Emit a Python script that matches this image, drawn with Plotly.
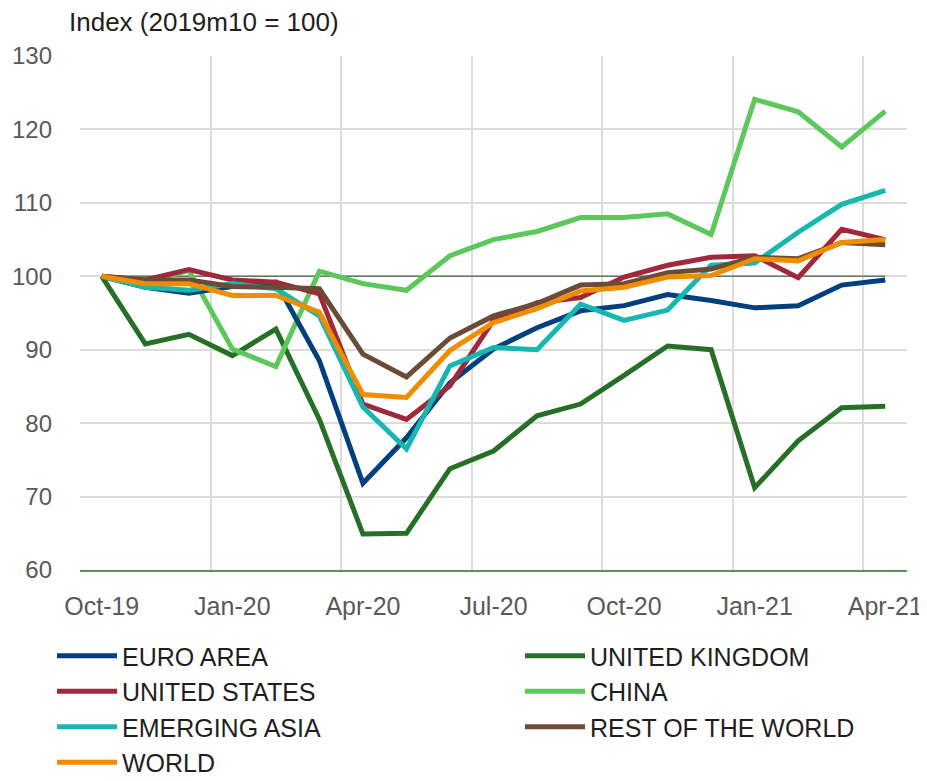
import plotly.graph_objects as go

months = ["Oct-19", "Nov-19", "Dec-19", "Jan-20", "Feb-20", "Mar-20", "Apr-20", "May-20",
          "Jun-20", "Jul-20", "Aug-20", "Sep-20", "Oct-20", "Nov-20", "Dec-20", "Jan-21",
          "Feb-21", "Mar-21", "Apr-21"]
tick_labels = ["Oct-19", "Jan-20", "Apr-20", "Jul-20", "Oct-20", "Jan-21", "Apr-21"]

euro_area = [100, 98.5, 97.7, 98.6, 99.2, 88.5, 71.8, 78.0, 85.5, 90.1, 93.0, 95.3,
             96.0, 97.5, 96.7, 95.7, 96.0, 98.8, 99.5]
united_states = [100, 99.5, 100.9, 99.5, 99.2, 97.6, 82.6, 80.5, 85.1, 94.0, 96.4, 97.1,
                 99.9, 101.5, 102.6, 102.8, 99.8, 106.4, 105.0]
emerging_asia = [100, 98.5, 98.1, 99.0, 98.3, 94.6, 82.2, 76.5, 87.8, 90.3, 90.0, 96.2,
                 94.0, 95.4, 101.5, 101.8, 106.0, 109.8, 111.7]
world = [100, 99.0, 99.0, 97.4, 97.4, 95.1, 83.9, 83.5, 89.9, 93.7, 95.6, 98.0,
         98.5, 99.9, 100.1, 102.4, 102.1, 104.6, 105.0]
united_kingdom = [100, 90.8, 92.1, 89.2, 92.8, 80.5, 64.9, 65.0, 73.8, 76.2, 81.0, 82.6,
                  86.5, 90.5, 90.0, 71.2, 77.6, 82.1, 82.3]
china = [100, 99.2, 100.8, 90.1, 87.7, 100.7, 99.0, 98.1, 102.8, 105.0, 106.1, 108.0,
         108.0, 108.5, 105.7, 124.1, 122.4, 117.6, 122.5]
rest_of_world = [100, 99.5, 99.5, 98.6, 98.5, 98.3, 89.4, 86.3, 91.6, 94.6, 96.3, 98.8,
                 99.0, 100.5, 101.0, 102.6, 102.4, 104.6, 104.3]
baseline = [100] * len(months)

idx = list(range(len(months)))
tick_idx = [months.index(t) for t in tick_labels]
grid_idx = [i - 0.5 for i in tick_idx]

series = [
    ("UNITED KINGDOM", united_kingdom, "#266f26", "legend2"),
    ("CHINA", china, "#5cc75a", "legend2"),
    ("EURO AREA", euro_area, "#00407f", "legend"),
    ("UNITED STATES", united_states, "#a1283b", "legend"),
    ("EMERGING ASIA", emerging_asia, "#14b8b0", "legend"),
    ("REST OF THE WORLD", rest_of_world, "#6b4b36", "legend2"),
    ("WORLD", world, "#f08c00", "legend"),
]
legend_rank = {"EURO AREA": 1, "UNITED STATES": 2, "EMERGING ASIA": 3, "WORLD": 4,
               "UNITED KINGDOM": 1, "CHINA": 2, "REST OF THE WORLD": 3}

fig = go.Figure()
fig.add_trace(go.Scatter(x=idx, y=baseline, mode="lines", showlegend=False,
                         line=dict(color="#627862", width=1.5), hoverinfo="skip"))
for name, vals, color, leg in series:
    fig.add_trace(go.Scatter(x=idx, y=vals, mode="lines", name=name, legend=leg,
                             legendrank=legend_rank[name],
                             line=dict(color=color, width=5)))

font_main = "Liberation Sans, Arial, sans-serif"
legend_common = dict(orientation="v", yanchor="top", xanchor="left",
                     bgcolor="rgba(0,0,0,0)", itemwidth=60,
                     font=dict(family=font_main, size=25, color="#1e1e1e"),
                     tracegroupgap=0, traceorder="normal")

# page body has an 8px margin; figure is sized so the plot sits where the reference has it
fig.update_layout(
    width=919, height=773,
    margin=dict(l=72, r=20, t=48, b=211, autoexpand=False),
    paper_bgcolor="white", plot_bgcolor="white",
    font=dict(family=font_main),
    xaxis=dict(range=[-0.5, 18.5], tickmode="array", tickvals=tick_idx, ticktext=tick_labels,
               showgrid=False, zeroline=False,
               showline=True, linecolor="#5a965a", linewidth=1.5,
               tickfont=dict(family=font_main, size=25, color="#595959"),
               ticks="", ticklabelstandoff=13,
               minor=dict(tickmode="array", tickvals=grid_idx, showgrid=True,
                          gridcolor="#dcdcdc", gridwidth=1.5, ticks="")),
    yaxis=dict(range=[60, 130], tickmode="linear", tick0=60, dtick=10,
               showgrid=True, gridcolor="#dcdcdc", gridwidth=1.5, zeroline=False,
               tickfont=dict(family=font_main, size=24, color="#595959"),
               ticks="", ticklabelstandoff=27),
    legend=dict(x=(52 - 80) / 827, y=-(633 - 570) / 514, **legend_common),
    legend2=dict(x=(520 - 80) / 827, y=-(633 - 570) / 514, **legend_common),
    annotations=[dict(text="Index (2019m10 = 100)", xref="paper", yref="paper",
                      x=(67 - 80) / 827, y=1 + 51 / 514, xanchor="left", yanchor="top",
                      showarrow=False, font=dict(family=font_main, size=26, color="#1e1e1e"))],
    showlegend=True,
)

fig.write_html("out.html")
